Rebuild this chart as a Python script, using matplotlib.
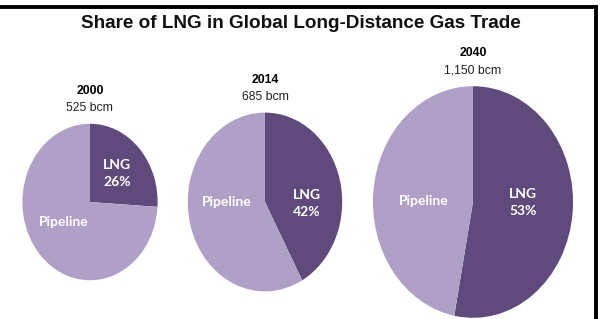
import numpy as np
import matplotlib.pyplot as plt
from matplotlib.lines import Line2D

years = ['2000', '2014', '2040']
volumes = [525, 685, 1150]          # bcm
lng_share = [26, 42, 53]            # %
slice_names = ['LNG', 'Pipeline']

LNG_COLOR = '#5f4a7b'
PIPE_COLOR = '#b0a0c8'

W, H = 600, 319
fig = plt.figure(figsize=(W / 100, H / 100), dpi=100)

def fx(px):
    return px / W

def fy(py):
    return 1 - py / H

# border (top and right only, like the clipped screenshot)
fig.add_artist(Line2D([fx(0), fx(596)], [fy(7), fy(7)], color='black', lw=2.8,
                      transform=fig.transFigure))
fig.add_artist(Line2D([fx(595.5), fx(595.5)], [fy(7), fy(319)], color='black', lw=2.8,
                      transform=fig.transFigure))

fig.text(0.502, fy(23), 'Share of LNG in Global Long-Distance Gas Trade',
         ha='center', va='center', fontsize=13.6, fontweight='bold',
         family='Liberation Sans', color='#111111')

centers_x = [90, 265, 473]
center_y = 202
# label spots inside each pie, in units of the radius: (LNG), (Pipeline)
label_spots = [[(0.40, 0.37), (-0.39, -0.26)],
               [(0.54, -0.02), (-0.49, 0.0)],
               [(0.50, 0.0), (-0.49, 0.01)]]

for year, vol, share, cx, spots in zip(years, volumes, lng_share, centers_x, label_spots):
    w = 5.9 * np.sqrt(vol)
    h = 6.83 * np.sqrt(vol)
    ax = fig.add_axes([fx(cx - w / 2), fy(center_y + h / 2), w / W, h / H])
    wedges, texts = ax.pie([share, 100 - share], colors=[LNG_COLOR, PIPE_COLOR],
                           startangle=90, counterclock=False,
                           labels=['%s\n%d%%' % (slice_names[0], share), slice_names[1]],
                           labeldistance=0.52,
                           textprops=dict(color='white', fontsize=10,
                                          fontweight='bold', family='Lato',
                                          linespacing=1.5))
    for t, pos in zip(texts, spots):
        t.set_ha('center')
        t.set_position(pos)
    ax.set_aspect('auto')
    ax.set_xlim(-1, 1)
    ax.set_ylim(-1, 1)
    top = center_y - h / 2
    fig.text(fx(cx), fy(top - 33), year, ha='center', va='center',
             fontsize=8.8, fontweight='bold', family='Liberation Sans')
    fig.text(fx(cx), fy(top - 16), '{:,} bcm'.format(vol), ha='center', va='center',
             fontsize=8.8, family='Liberation Sans', color='#222222')

fig.savefig('out.png', dpi=100)
